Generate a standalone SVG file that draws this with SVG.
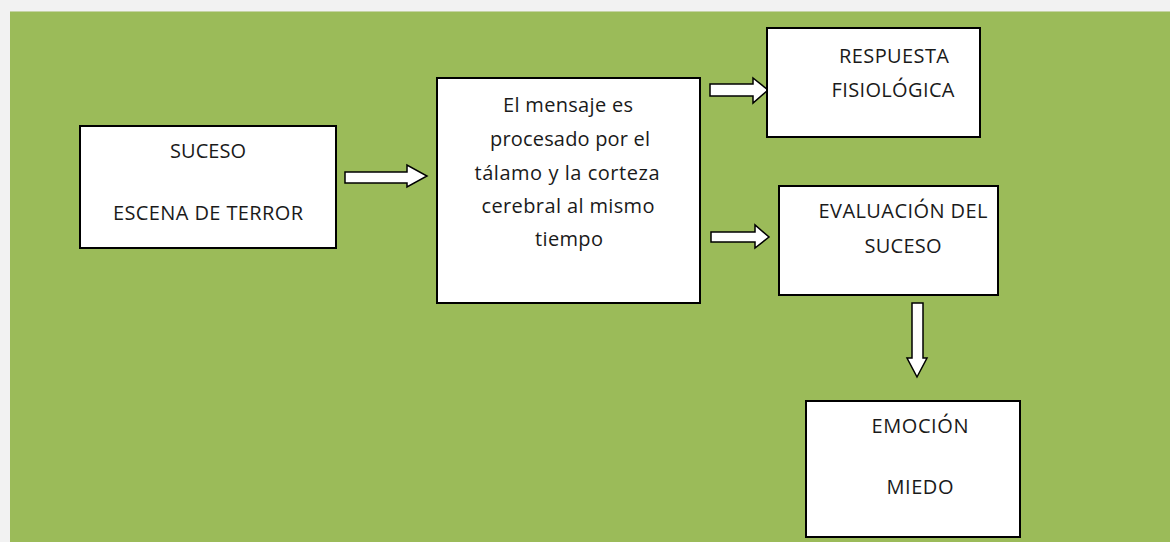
<svg xmlns="http://www.w3.org/2000/svg" width="1170" height="542" viewBox="0 0 1170 542">
<style>
.box{fill:#ffffff;stroke:#000000;stroke-width:2}
.arrow{fill:#ffffff;stroke:#000000;stroke-width:1.5;stroke-linejoin:miter}
.t{font-family:"Open Sans",Lato,sans-serif;font-size:20px;fill:#1a1a1a;text-anchor:middle}
</style>
<rect x="0" y="0" width="1170" height="542" fill="#f2f2f2"/>
<rect x="10" y="11" width="1160" height="531" fill="#9bbb59"/>
<line x1="10" y1="11.5" x2="1170" y2="11.5" stroke="#c5d3a4" stroke-width="1"/>
<g id="connectors">
<polygon class="arrow" points="345,172 407,172 407,165 427,176 407,187 407,183 345,183"/>
<polygon class="arrow" points="710,84 753,84 753,78 768,90 753,103 753,96 710,96"/>
<polygon class="arrow" points="711,232 755,232 755,225 769,237 755,248 755,242 711,242"/>
<polygon class="arrow" points="912,303 923,303 923,358 927,358 917,377 907,358 912,358"/>
</g>
<g id="node-suceso">
<rect class="box" x="80" y="126" width="256" height="122"/>
<text class="t" x="208" y="158" textLength="76">SUCESO</text>
<text class="t" x="208" y="220" textLength="190">ESCENA DE TERROR</text>
</g>
<g id="node-mensaje">
<rect class="box" x="437" y="78" width="263" height="225"/>
<text class="t" x="568" y="112" textLength="130">El mensaje es</text>
<text class="t" x="570" y="146" textLength="160">procesado por el</text>
<text class="t" x="567" y="180" textLength="185">tálamo y la corteza</text>
<text class="t" x="568" y="213" textLength="173">cerebral al mismo</text>
<text class="t" x="569" y="246" textLength="68">tiempo</text>
</g>
<g id="node-respuesta">
<rect class="box" x="767" y="28" width="213" height="109"/>
<text class="t" x="894" y="63" textLength="110">RESPUESTA</text>
<text class="t" x="893" y="97" textLength="123">FISIOLÓGICA</text>
</g>
<g id="node-evaluacion">
<rect class="box" x="779" y="186" width="219" height="109"/>
<text class="t" x="903" y="218" textLength="169">EVALUACIÓN DEL</text>
<text class="t" x="903" y="253" textLength="77">SUCESO</text>
</g>
<g id="node-emocion">
<rect class="box" x="806" y="401" width="214" height="136"/>
<text class="t" x="920" y="433" textLength="97">EMOCIÓN</text>
<text class="t" x="920" y="494" textLength="67">MIEDO</text>
</g>
</svg>
